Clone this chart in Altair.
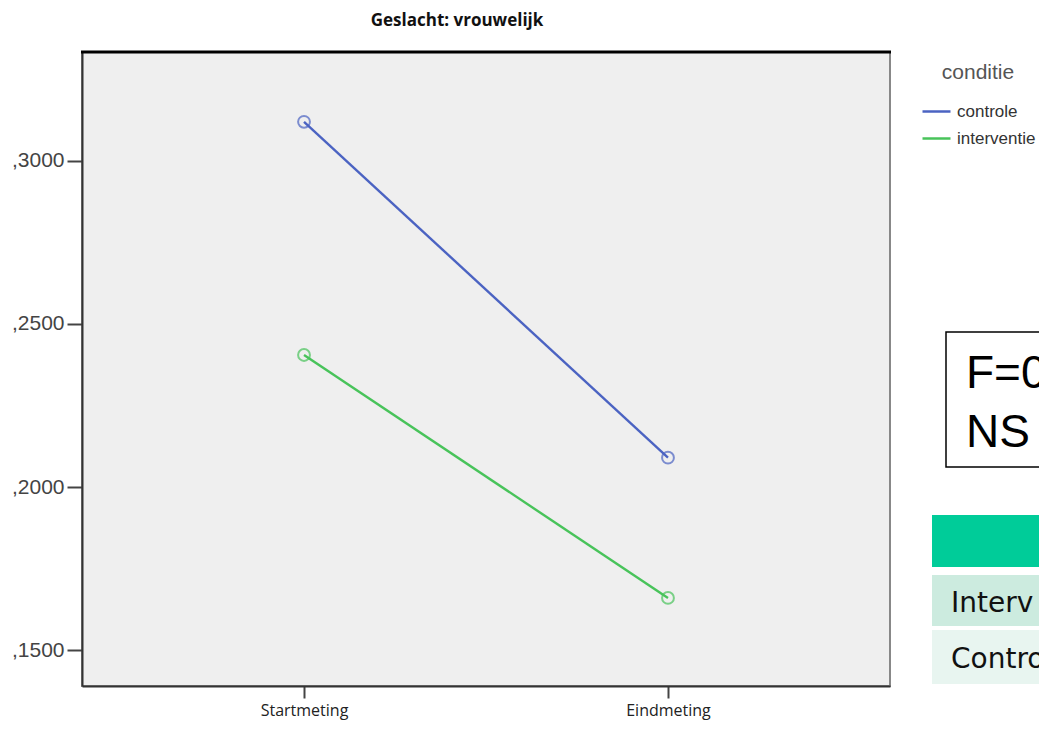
import altair as alt
import pandas as pd

# ---- data ----
conditie = ["controle", "controle", "interventie", "interventie"]
meting = ["Startmeting", "Eindmeting", "Startmeting", "Eindmeting"]
waarde = [0.312, 0.209, 0.2405, 0.166]

cond_levels = ["controle", "interventie"]
cond_colors = ["#4B63C2", "#48C35A"]
meting_order = ["Startmeting", "Eindmeting"]

title_text = ["Geslacht: vrouwelijk"]
box_lines = ["F=0", "NS"]
table_rows = ["Interv", "Contro"]

df = pd.DataFrame({"conditie": conditie, "meting": meting, "waarde": waarde})

W, H = 808, 634

x_enc = alt.X(
    "meting:N",
    sort=meting_order,
    scale=alt.Scale(type="point", padding=0.61),
    axis=alt.Axis(
        title=None, labelAngle=0, labelFont="Open Sans", labelFontSize=16,
        labelColor="#222", tickSize=12, tickWidth=2, tickColor="#444",
        domainColor="#333", domainWidth=2, labelPadding=4, grid=False,
    ),
)
y_enc = alt.Y(
    "waarde:Q",
    scale=alt.Scale(domain=[0.139, 0.3334], nice=False, zero=False),
    axis=alt.Axis(
        title=None, values=[0.15, 0.2, 0.25, 0.3],
        labelExpr="',' + substring(format(datum.value, '.4f'), 2)",
        labelFont="Liberation Sans", labelFontSize=21, labelColor="#444",
        tickSize=15, tickWidth=2, tickColor="#444", domainColor="#333",
        domainWidth=2, labelPadding=3, grid=False,
    ),
)
color_enc = alt.Color(
    "conditie:N",
    scale=alt.Scale(domain=cond_levels, range=cond_colors),
    legend=alt.Legend(
        title="conditie", orient="none", legendX=839, legendY=10,
        titleFont="Liberation Sans", titleFontSize=21, titleFontWeight="normal",
        titleColor="#555", titleAnchor="middle", titlePadding=13,
        labelFont="Liberation Sans", labelFontSize=17, labelColor="#333",
        symbolType="stroke", symbolSize=784, symbolStrokeWidth=2.5,
        labelOffset=5, rowPadding=3,
    ),
)

base = alt.Chart(df).encode(x=x_enc, y=y_enc, color=color_enc)
lines = base.mark_line(strokeWidth=2.4)
points = base.mark_point(filled=False, size=140, strokeWidth=2).encode(
    color=alt.Color("conditie:N", scale=alt.Scale(domain=cond_levels, range=cond_colors), legend=None)
)

top_line = alt.Chart(pd.DataFrame({"a": [0]})).mark_rule(color="black", strokeWidth=3).encode(
    x=alt.value(-1), x2=alt.value(W + 1), y=alt.value(0)
)

title = alt.Chart(pd.DataFrame({"t": title_text})).mark_text(
    font="Open Sans", fontSize=17, fontWeight="bold", color="#111", align="center", baseline="middle"
).encode(text="t:N", x=alt.value(375), y=alt.value(-31))

box = alt.Chart(pd.DataFrame({"a": [0]})).mark_rect(
    fill="white", stroke="black", strokeWidth=1.5
).encode(x=alt.value(864), x2=alt.value(1000), y=alt.value(280), y2=alt.value(415))

box_text = alt.Chart(pd.DataFrame({"t": box_lines, "yy": [336, 395]})).mark_text(
    font="Liberation Sans", fontSize=46, color="black", align="left", baseline="alphabetic"
).encode(text="t:N", x=alt.value(884), y=alt.Y("yy:Q", scale=None))

tbl_head = alt.Chart(pd.DataFrame({"a": [0]})).mark_rect(fill="#00CC99").encode(
    x=alt.value(850), x2=alt.value(1000), y=alt.value(463), y2=alt.value(515)
)
tbl_row1 = alt.Chart(pd.DataFrame({"a": [0]})).mark_rect(fill="#CCEBDF").encode(
    x=alt.value(850), x2=alt.value(1000), y=alt.value(523), y2=alt.value(574)
)
tbl_row2 = alt.Chart(pd.DataFrame({"a": [0]})).mark_rect(fill="#E8F5F0").encode(
    x=alt.value(850), x2=alt.value(1000), y=alt.value(578), y2=alt.value(632)
)
tbl_text = alt.Chart(pd.DataFrame({"t": table_rows, "yy": [560, 616]})).mark_text(
    font="DejaVu Sans", fontSize=28, color="#111", align="left", baseline="alphabetic"
).encode(text="t:N", x=alt.value(869), y=alt.Y("yy:Q", scale=None))

chart = alt.layer(
    lines, points, top_line, title, box, box_text, tbl_head, tbl_row1, tbl_row2, tbl_text
).properties(
    width=W, height=H,
    autosize=alt.AutoSizeParams(type="none"),
    padding={"left": 74, "top": 44, "right": 149, "bottom": 36},
    background="white",
).configure_view(
    fill="#EFEFEF", stroke="#888", strokeWidth=2
)

chart.save("out.html", embed_options={"renderer": "svg", "actions": False})
